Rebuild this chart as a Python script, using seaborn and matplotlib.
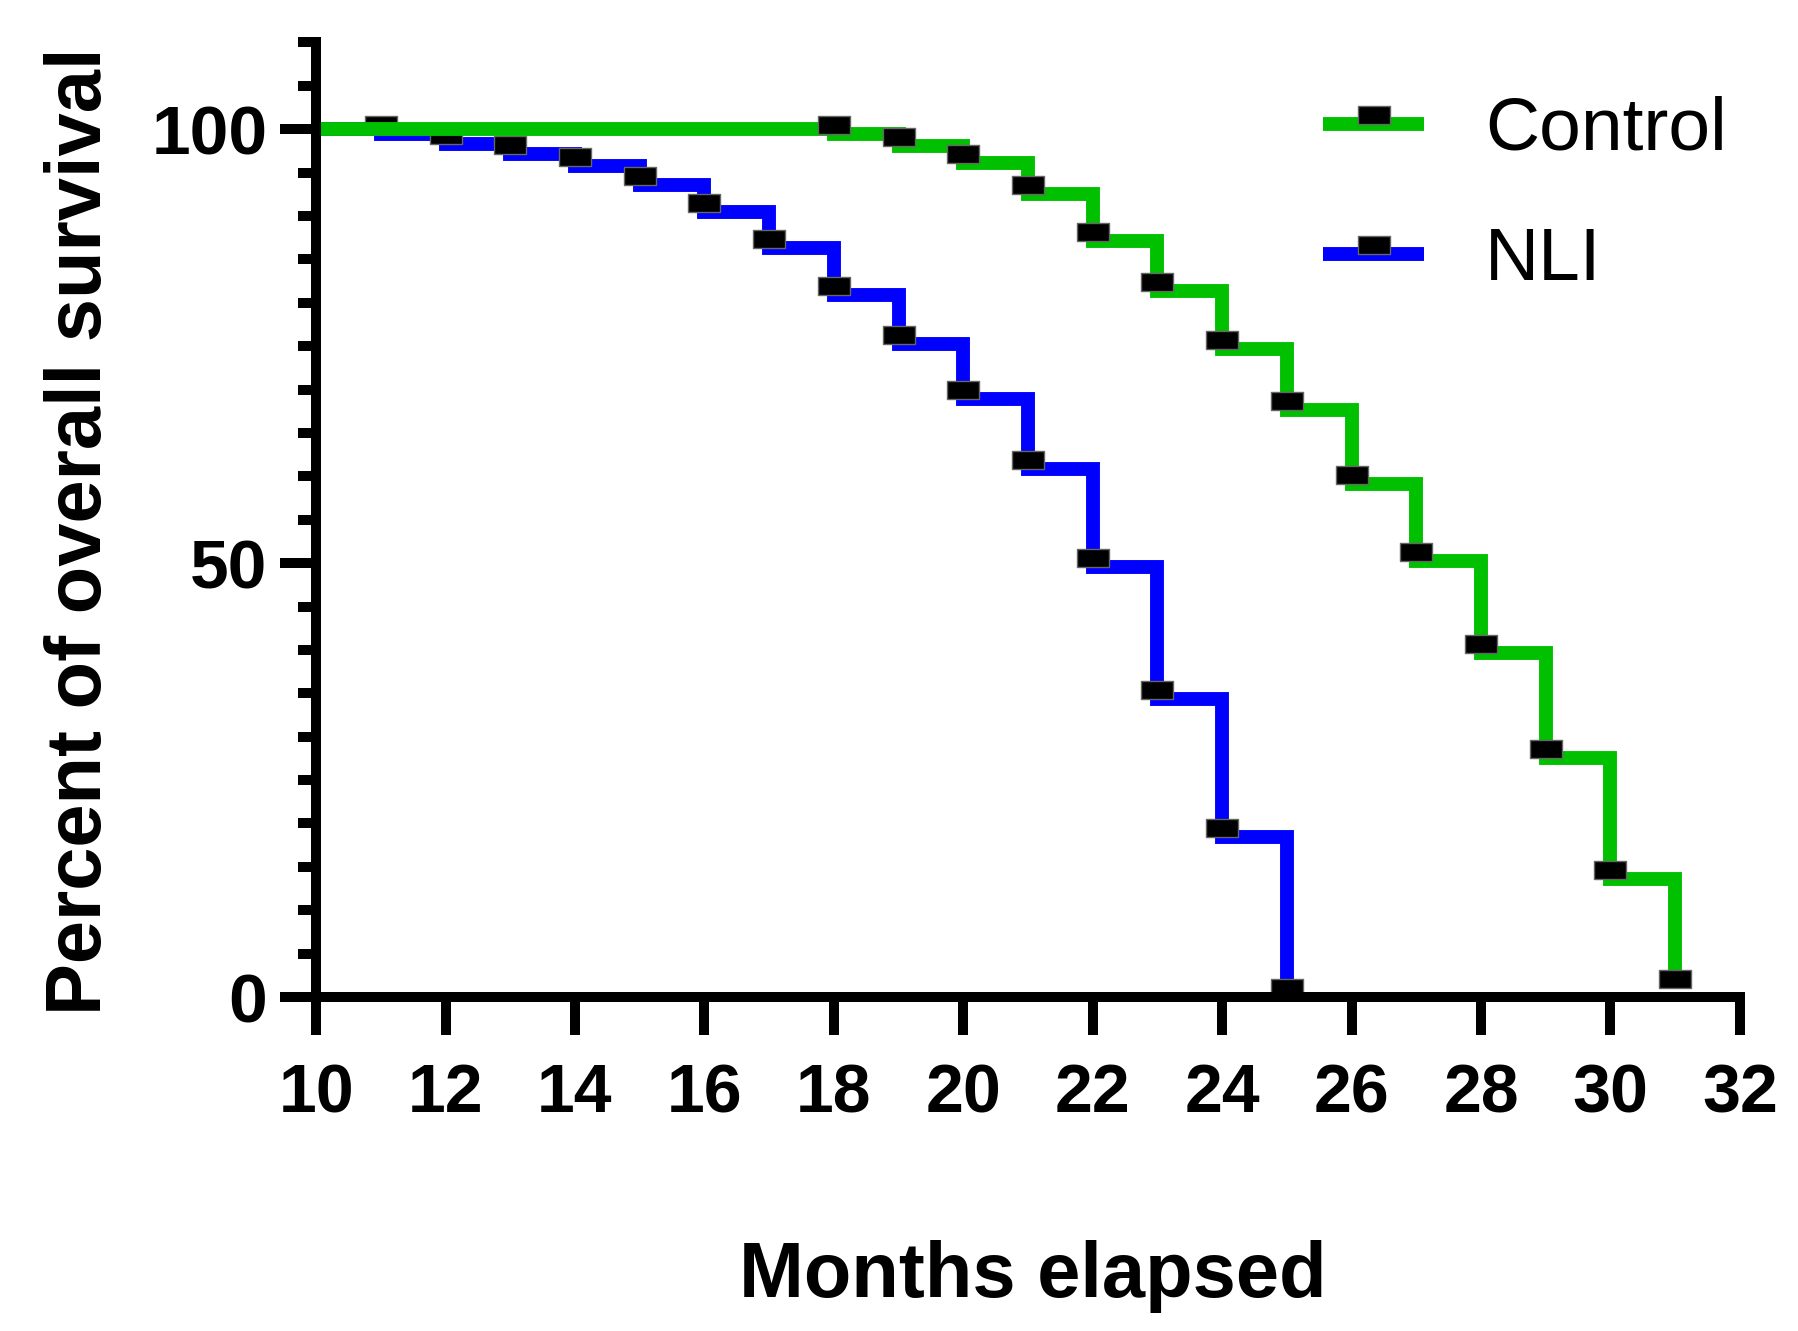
import numpy as np
import pandas as pd
import seaborn as sns
import matplotlib
matplotlib.use("Agg")
import matplotlib.pyplot as plt
from matplotlib.path import Path
from matplotlib.ticker import MultipleLocator

# survival data (percent alive at each month)
nli_months = [10, 11, 12, 13, 14, 15, 16, 17, 18, 19, 20, 21, 22, 23, 24, 25]
nli_pct = [100, 99.5, 98.3, 97.1, 95.8, 93.6, 90.5, 86.3, 80.9, 75.3, 68.9, 60.9, 49.5, 34.3, 18.5, 0]
nli_events = [11, 12, 13, 14, 15, 16, 17, 18, 19, 20, 21, 22, 23, 24, 25]

ctrl_months = [10, 11, 12, 13, 14, 15, 16, 17, 18, 19, 20, 21, 22, 23, 24, 25, 26, 27, 28, 29, 30, 31]
ctrl_pct = [100, 100, 100, 100, 100, 100, 100, 100, 99.4, 98.1, 96.1, 92.5, 87.1, 81.4,
            74.7, 67.6, 59.1, 50.2, 39.7, 27.5, 13.6, 1]
ctrl_events = [18, 19, 20, 21, 22, 23, 24, 25, 26, 27, 28, 29, 30, 31]

x_ticks = [10, 12, 14, 16, 18, 20, 22, 24, 26, 28, 30, 32]
y_ticks = [0, 50, 100]

sns.set_style("ticks")
plt.rcParams["font.family"] = ["Liberation Sans", "DejaVu Sans"]
plt.rcParams.update({"text.color": "black", "axes.labelcolor": "black",
                     "xtick.color": "black", "ytick.color": "black"})

fig = plt.figure(figsize=(17.98, 13.31), dpi=100)
ax = fig.add_axes([0.1758, 0.2509, 0.7919, 0.7172])

# wide box marker sitting just on top of the line
box = Path([(-1, 0), (1, 0), (1, 1.125), (-1, 1.125), (-1, 0)], closed=True)

def draw(months, pct, events, color, label):
    idx = [months.index(m) for m in events]
    sns.lineplot(x=months, y=pct, ax=ax, drawstyle="steps-post", color=color,
                 linewidth=10, errorbar=None, marker=box, markersize=26,
                 markevery=idx, markerfacecolor="black", markeredgecolor="#666666",
                 markeredgewidth=1, solid_joinstyle="miter", solid_capstyle="butt",
                 clip_on=False, label=label)

draw(nli_months, nli_pct, nli_events, "#0000FF", "NLI")
draw(ctrl_months, ctrl_pct, ctrl_events, "#00C000", "Control")

ax.set_xlim(10, 32)
ax.set_ylim(0, 110)
ax.set_xticks(x_ticks)
ax.set_yticks(y_ticks)
ax.yaxis.set_minor_locator(MultipleLocator(5))

for s in ["top", "right"]:
    ax.spines[s].set_visible(False)
for s in ["left", "bottom"]:
    ax.spines[s].set_linewidth(7.2)
    ax.spines[s].set_color("black")

ax.tick_params(axis="x", which="major", length=27, width=7.2, pad=20)
ax.tick_params(axis="y", which="major", length=26, width=7.2, pad=9)
ax.tick_params(axis="y", which="minor", length=13, width=7.2)

for t in ax.get_xticklabels():
    t.set_fontsize(49)
    t.set_fontweight("bold")
for t in ax.get_yticklabels():
    t.set_fontsize(50)
    t.set_fontweight("bold")

ax.set_xlabel("Months elapsed", fontsize=56, fontweight="bold")
ax.set_ylabel("Percent of overall survival", fontsize=56, fontweight="bold")
ax.xaxis.set_label_coords(0.503, -0.255)
ax.yaxis.set_label_coords(-0.140, 0.488)

lines = {l.get_label(): l for l in ax.get_lines()}
ax.legend([lines["Control"], lines["NLI"]], ["Control", "NLI"],
          loc="upper left", bbox_to_anchor=(1323 / 1798, 1 - 96 / 1331),
          bbox_transform=fig.transFigure, frameon=False, fontsize=54,
          handlelength=1.35, handletextpad=0.81, labelspacing=0.81,
          borderpad=0, borderaxespad=0, numpoints=1)

fig.savefig("out.png", dpi=100)
